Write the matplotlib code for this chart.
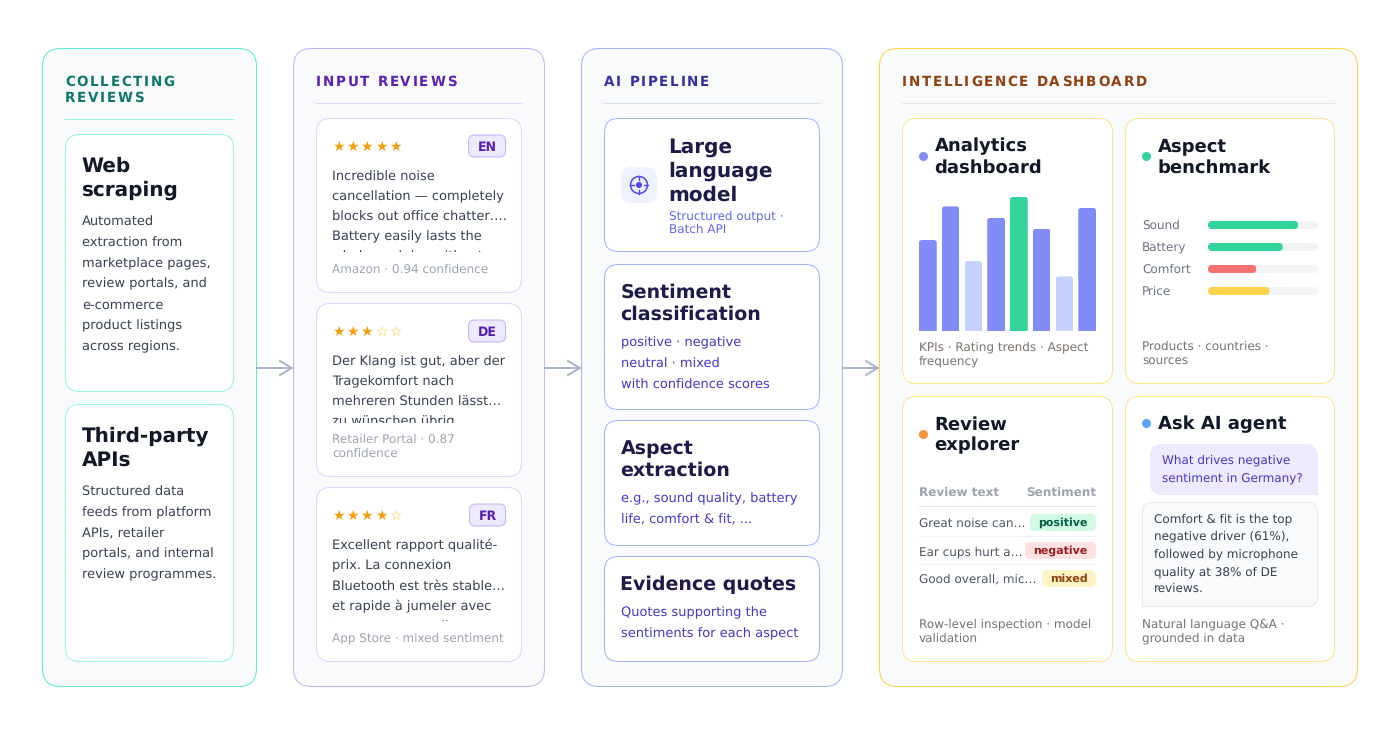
import matplotlib
matplotlib.use('Agg')
import matplotlib.pyplot as plt
from matplotlib.patches import FancyBboxPatch, Rectangle, Circle, PathPatch
from matplotlib.path import Path
from matplotlib.transforms import IdentityTransform

# dashboard values
bar_values = [65, 89, 50, 81, 96, 73, 39, 88]
bar_colors = ['#818cf8', '#818cf8', '#c7d2fe', '#818cf8', '#34d399', '#818cf8', '#c7d2fe', '#818cf8']

aspect_names = ['Sound', 'Battery', 'Comfort', 'Price']
aspect_scores = [82, 68, 44, 56]
aspect_colors = ['#34d399', '#34d399', '#f87171', '#fcd34d']

review_rows = ['Great noise can…', 'Ear cups hurt a…', 'Good overall, mic…']
review_tags = ['positive', 'negative', 'mixed']

review_stars = [5, 3, 4]
review_langs = ['EN', 'DE', 'FR']
review_lines = [
    ['Incredible noise', 'cancellation — completely', 'blocks out office chatter….', 'Battery easily lasts the', 'whole workday without'],
    ['Der Klang ist gut, aber der', 'Tragekomfort nach', 'mehreren Stunden lässt…', 'zu wünschen übrig'],
    ['Excellent rapport qualité-', 'prix. La connexion', 'Bluetooth est très stable…', 'et rapide à jumeler avec', 'tous mes appareils'],
]
review_meta = [
    ['Amazon · 0.94 confidence'],
    ['Retailer Portal · 0.87', 'confidence'],
    ['App Store · mixed sentiment'],
]

plt.rcParams['font.family'] = 'DejaVu Sans'
plt.rcParams['text.hinting'] = 'no_hinting'

fig = plt.figure(figsize=(14, 7.35), dpi=100, facecolor='white')
ax = fig.add_axes([0, 0, 1, 1])
ax.set_xlim(0, 1400)
ax.set_ylim(735, 0)
ax.axis('off')


def px(size):
    return size * 0.72


def box(x0, y0, x1, y1, r, face, edge=None, lw=1.05, z=1):
    p = FancyBboxPatch((x0 + r, y0 + r), x1 - x0 - 2 * r, y1 - y0 - 2 * r,
                       boxstyle='round,pad=%f,rounding_size=%f' % (r, r),
                       fc=face, ec=edge if edge else 'none', lw=lw * 0.72, zorder=z)
    ax.add_patch(p)
    return p


def txt(x, y, s, size, color, bold=False, ha='left', z=5):
    return ax.text(x, y, s, fontsize=px(size), color=color, ha=ha, va='baseline',
                   fontweight='bold' if bold else 'normal', zorder=z)


def many(x, ys, lines, size, color, bold=False):
    for y, s in zip(ys, lines):
        txt(x - 0.5 if bold else x, y, s, size, color, bold)


def spaced(x, y, s, size, color, gap):
    # letter-spacing by hand, one Text per character
    r = fig.canvas.get_renderer()
    for ch in s:
        if ch != ' ':
            txt(x, y, ch, size, color, True)
        w = ax.text(0, 0, 'x' + ch + 'x', fontsize=px(size), fontweight='bold')
        wx = ax.text(0, 0, 'xx', fontsize=px(size), fontweight='bold')
        x += w.get_window_extent(r).width - wx.get_window_extent(r).width + gap
        w.remove()
        wx.remove()


def rule(x0, x1, y, color, z=2):
    ax.plot([x0, x1], [y, y], color=color, lw=0.72, zorder=z, snap=False)


def round_bar(bar, r, square_bottom=False):
    b = bar.get_window_extent()
    y0 = b.y0 - (r if square_bottom else 0)
    clip = FancyBboxPatch((b.x0 + r, y0 + r), b.width - 2 * r, b.y1 - y0 - 2 * r,
                          boxstyle='round,pad=%f,rounding_size=%f' % (r, r),
                          transform=IdentityTransform())
    bar.set_clip_path(clip)


def inset(x0, y0, x1, y1):
    a = fig.add_axes([x0 / 1400, 1 - y1 / 735, (x1 - x0) / 1400, (y1 - y0) / 735])
    a.axis('off')
    return a


# panels
box(42.5, 48.5, 256.5, 686.5, 18, '#f8fafc', '#5eead4')
box(293.5, 48.5, 544.5, 686.5, 18, '#f8fafc', '#c4b5fd')
box(581.5, 48.5, 842.5, 686.5, 18, '#f8fafc', '#a5b4fc')
box(879.5, 48.5, 1357.5, 686.5, 18, '#f8fafc', '#fcd34d')

spaced(65, 86, 'COLLECTING', 13.5, '#0f766e', 1.7)
spaced(65, 102, 'REVIEWS', 13.5, '#0f766e', 1.7)
spaced(316, 86, 'INPUT REVIEWS', 13.5, '#5b21b6', 1.7)
spaced(604, 86, 'AI PIPELINE', 13.5, '#3730a3', 1.7)
spaced(902, 86, 'INTELLIGENCE DASHBOARD', 13.5, '#92400e', 1.7)

rule(65, 234, 119.5, '#99f6e4')
rule(316, 522, 103.5, '#ddd6fe')
rule(604, 820, 103.5, '#d9dee8')
rule(902, 1335, 103.5, '#e5e7eb')

# arrows between the panels
for x0, x1 in [(257, 291.5), (545, 579.5), (843, 877.5)]:
    ax.plot([x0, x1], [368, 368], color='#a8b4c8', lw=1.4, zorder=2)
    ax.plot([x1 - 11.5, x1, x1 - 11.5], [361, 368, 375], color='#a8b4c8', lw=1.4, zorder=2)

# collecting
box(65.5, 134.5, 233.5, 391.5, 14, 'white', '#99f6e4', z=2)
box(65.5, 404.5, 233.5, 661.5, 14, 'white', '#99f6e4', z=2)
many(82, [172, 196], ['Web', 'scraping'], 20, '#111827', True)
many(82, [225.5, 246.5, 267, 287.5, 308.5, 329.5, 350.5],
     ['Automated', 'extraction from', 'marketplace pages,', 'review portals, and',
      'e-commerce', 'product listings', 'across regions.'], 13, '#374151')
many(82, [442, 466], ['Third-party', 'APIs'], 20, '#111827', True)
many(82, [495.5, 516.5, 537.5, 557.5, 578.5],
     ['Structured data', 'feeds from platform', 'APIs, retailer',
      'portals, and internal', 'review programmes.'], 13, '#374151')

# reviews
card_tops = [118.5, 303.5, 487.5]
card_bots = [292.5, 476.5, 661.5]
line_ys = [[180.5, 200.5, 220.5, 240.5, 260.5], [365.5, 385.5, 405.5, 425.5], [549.5, 569.5, 590, 610.5, 630.5]]
clip_ys = [252, 423, 621]
meta_ys = [[273], [443, 457], [642]]
badge_x0 = [468, 468, 469]
for i in range(3):
    box(316.5, card_tops[i], 521.5, card_bots[i], 14, 'white', '#ddd6fe', z=2)
    for k in range(5):
        filled = k < review_stars[i]
        txt(332 + k * 14.2, card_tops[i] + 32.5, '★' if filled else '☆', 14, '#f59e0b' if filled else '#fbbf24')
    box(badge_x0[i] + 0.5, card_tops[i] + 16.5, 505.5, card_tops[i] + 38.5, 6, '#ede9fe', '#c4b5fd', z=3)
    txt((badge_x0[i] + 506) / 2, card_tops[i] + 32, review_langs[i], 12.5, '#5b21b6', True, ha='center')
    clip = Rectangle((320, card_tops[i]), 200, clip_ys[i] - card_tops[i], transform=ax.transData)
    for y, s in zip(line_ys[i], review_lines[i]):
        t = txt(332, y, s, 13, '#374151')
        t.set_clip_path(clip)
        t.set_clip_on(True)
    many(332, meta_ys[i], review_meta[i], 12, '#9ca3af')

# pipeline
box(604.5, 118.5, 819.5, 251.5, 14, 'white', '#a5b4fc', z=2)
box(604.5, 264.5, 819.5, 409.5, 14, 'white', '#a5b4fc', z=2)
box(604.5, 420.5, 819.5, 545.5, 14, 'white', '#a5b4fc', z=2)
box(604.5, 556.5, 819.5, 661.5, 14, 'white', '#a5b4fc', z=2)

box(621, 167, 657, 203, 10, '#eef2ff', z=3)
ax.add_patch(Circle((639, 185), 8.5, fc='none', ec='#4f46e5', lw=1.1, zorder=4))
ax.add_patch(Circle((639, 185), 3, fc='#4f46e5', ec='none', zorder=4))
for dx, dy in [(0, -1), (0, 1), (-1, 0), (1, 0)]:
    ax.plot([639 + dx * 5, 639 + dx * 9], [185 + dy * 5, 185 + dy * 9], color='#4f46e5', lw=1.0, zorder=4)

many(669, [153, 177, 201], ['Large', 'language', 'model'], 20, '#1e1b4b', True)
many(669, [219, 233], ['Structured output ·', 'Batch API'], 12, '#6366f1')
many(621, [298, 320], ['Sentiment', 'classification'], 19, '#1e1b4b', True)
many(621, [346.5, 367.5, 388.5], ['positive · negative', 'neutral · mixed', 'with confidence scores'], 13, '#4338ca')
many(621, [454, 476], ['Aspect', 'extraction'], 19, '#1e1b4b', True)
many(621, [502.5, 523.5], ['e.g., sound quality, battery', 'life, comfort & fit, ...'], 13, '#4338ca')
many(621, [590], ['Evidence quotes'], 19, '#1e1b4b', True)
many(621, [616.5, 637.5], ['Quotes supporting the', 'sentiments for each aspect'], 13, '#4338ca')

# dashboard cards
box(902.5, 118.5, 1112.5, 383.5, 14, 'white', '#fde68a', z=2)
box(1125.5, 118.5, 1334.5, 383.5, 14, 'white', '#fde68a', z=2)
box(902.5, 396.5, 1112.5, 661.5, 14, 'white', '#fde68a', z=2)
box(1125.5, 396.5, 1334.5, 661.5, 14, 'white', '#fde68a', z=2)

ax.add_patch(Circle((923.5, 156.5), 4.5, fc='#818cf8', ec='none', zorder=4))
ax.add_patch(Circle((1146.5, 156.5), 4.5, fc='#34d399', ec='none', zorder=4))
ax.add_patch(Circle((923.5, 434.5), 4.5, fc='#fb923c', ec='none', zorder=4))
ax.add_patch(Circle((1146.5, 423.5), 4.5, fc='#60a5fa', ec='none', zorder=4))

many(935, [151.5, 172.5], ['Analytics', 'dashboard'], 18, '#111827', True)
many(1158, [151.5, 172.5], ['Aspect', 'benchmark'], 18, '#111827', True)
many(935, [429.5, 450.5], ['Review', 'explorer'], 18, '#111827', True)
many(1158, [429.5], ['Ask AI agent'], 18, '#111827', True)

many(919, [350, 364], ['KPIs · Rating trends · Aspect', 'frequency'], 12, '#78716c')
many(1142, [350, 364], ['Products · countries ·', 'sources'], 12, '#78716c')
many(919, [628, 642], ['Row-level inspection · model', 'validation'], 12, '#78716c')
many(1142, [628, 642], ['Natural language Q&A ·', 'grounded in data'], 12, '#78716c')

# bar chart
bar_ax = inset(919, 191, 1096, 331)
bar_ax.set_xlim(-0.39, 7.39)
bar_ax.set_ylim(0, 100)
bars = bar_ax.bar(range(len(bar_values)), bar_values, width=0.78, color=bar_colors)
for b in bars:
    round_bar(b, 3, square_bottom=True)

# aspect bars
row_ys = [225, 247, 269, 291]
for name, score, col, y in zip(aspect_names, aspect_scores, aspect_colors, row_ys):
    txt(1142, y + 4, name, 12, '#6b7280')
    a = inset(1208, y - 4, 1318, y + 4)
    a.set_xlim(0, 100)
    a.set_ylim(0, 1)
    track = a.barh(0.5, 100, height=1, color='#f3f4f6')[0]
    fill = a.barh(0.5, score, height=1, color=col)[0]
    round_bar(track, 4)
    round_bar(fill, 4)

# review table
txt(919, 496, 'Review text', 12, '#9ca3af', True)
txt(1096, 496, 'Sentiment', 12, '#9ca3af', True, ha='right')
rule(919, 1096, 506.5, '#e5e7eb', z=3)
rule(919, 1096, 536.5, '#f3f4f6', z=3)
rule(919, 1096, 564.5, '#f3f4f6', z=3)
tag_faces = {'positive': '#d1fae5', 'negative': '#fee2e2', 'mixed': '#fef3c7'}
tag_texts = {'positive': '#065f46', 'negative': '#991b1b', 'mixed': '#92400e'}
tag_x0 = [1030, 1025, 1042]
for i in range(3):
    y = 527 + i * 28
    txt(919, y, review_rows[i], 12, '#4b5563')
    box(tag_x0[i], y - 13, 1096, y + 4, 5, tag_faces[review_tags[i]], z=3)
    txt((tag_x0[i] + 1096) / 2, y - 1, review_tags[i], 11, tag_texts[review_tags[i]], True, ha='center')

# chat
box(1150, 444, 1318, 495, 12, '#ede9fe', z=3)
ax.add_patch(Rectangle((1306, 483), 12, 12, fc='#ede9fe', ec='none', zorder=3))
many(1162, [463.5, 481.5], ['What drives negative', 'sentiment in Germany?'], 12, '#4338ca')

# answer bubble, bottom left corner stays square
x0, y0, x1, y1, r = 1142.5, 502.5, 1317.5, 606.5, 10
verts = [(x0, y1), (x0, y0 + r), (x0, y0), (x0 + r, y0), (x1 - r, y0), (x1, y0), (x1, y0 + r),
         (x1, y1 - r), (x1, y1), (x1 - r, y1), (x0, y1)]
codes = [Path.MOVETO, Path.LINETO, Path.CURVE3, Path.CURVE3, Path.LINETO, Path.CURVE3, Path.CURVE3,
         Path.LINETO, Path.CURVE3, Path.CURVE3, Path.LINETO]
ax.add_patch(PathPatch(Path(verts, codes), fc='#f8fafc', ec='#e5e7eb', lw=0.8, zorder=3))
many(1154, [522.5, 540, 557.5, 575, 592],
     ['Comfort & fit is the top', 'negative driver (61%),', 'followed by microphone',
      'quality at 38% of DE', 'reviews.'], 12, '#374151')

fig.savefig('out.png', dpi=100, facecolor='white')
